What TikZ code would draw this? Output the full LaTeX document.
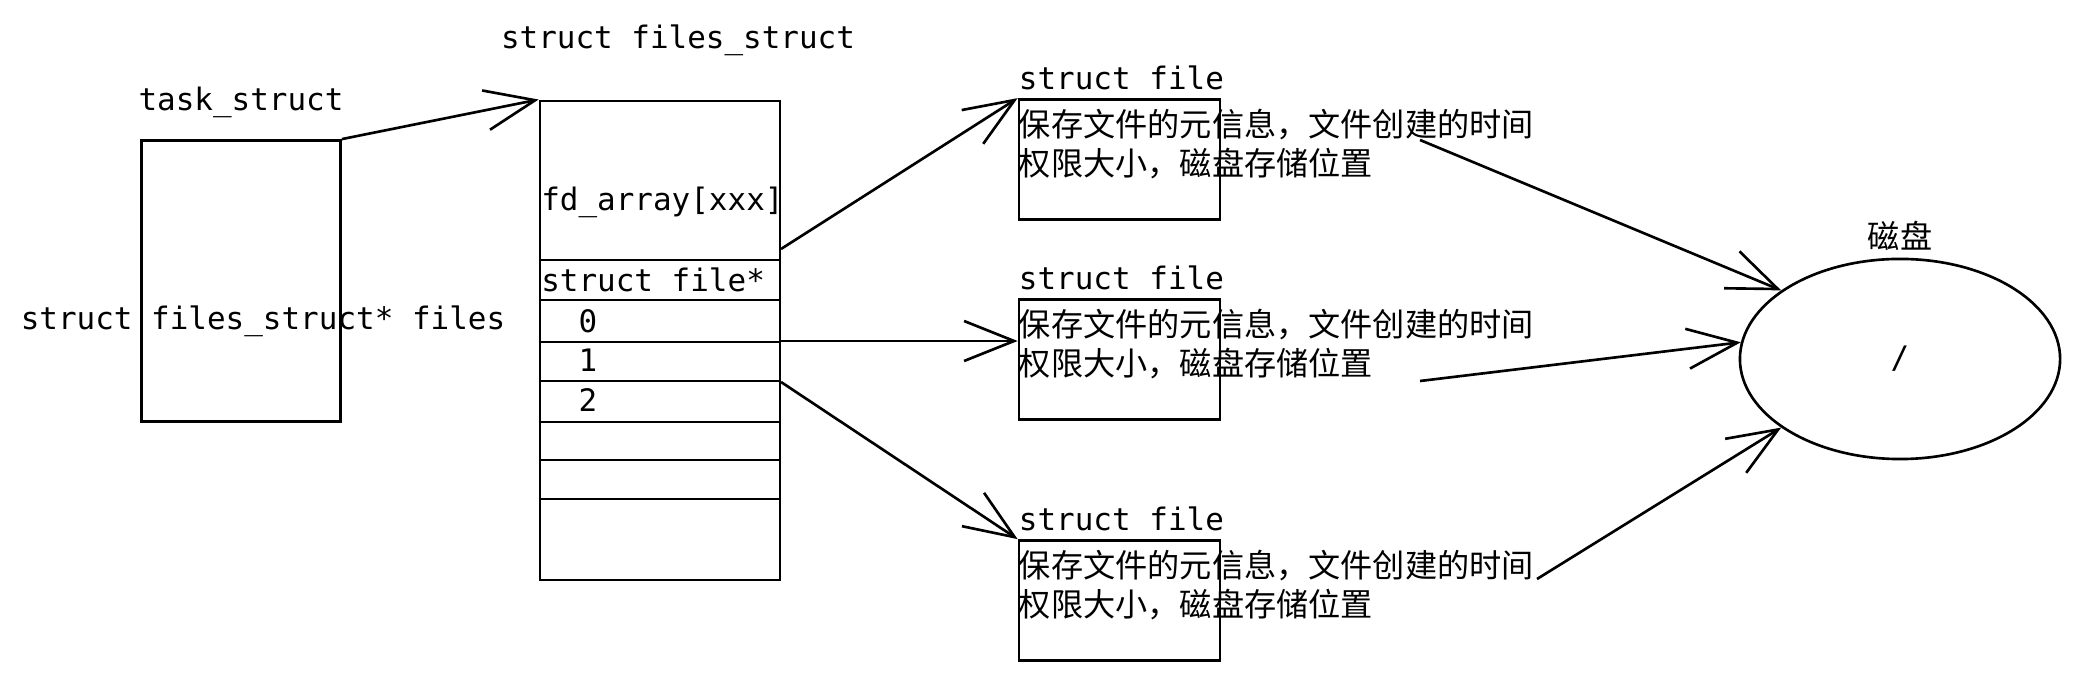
\documentclass[tikz,border=0pt]{standalone}
\usepackage{fontspec}
\setmonofont{DejaVu Sans Mono}
\newfontfamily\cjk{Noto Sans CJK SC}
\usetikzlibrary{arrows.meta, positioning, shapes.geometric}
\tikzset{
>={Straight Barb[length=5mm, width=4mm]}, % open arrow heads, like the sketch
box/.style={draw, inner sep=0pt}, % plain rectangles for the structs
code/.style={font=\ttfamily\fontsize{8.8}{10}\selectfont, inner sep=0pt}, % code names
info/.style={font=\cjk\fontsize{9.15}{11.1}\selectfont, align=left, inner sep=0pt}, % chinese notes
}

\begin{document}
\begin{tikzpicture}[x=0.01cm, y=-0.01cm, line width=0.75pt]
    \useasboundingbox (0,0) rectangle (2080,680);

    % task_struct
    \node[box, minimum width=1.99cm, minimum height=2.81cm] (task) at (241,281) {};
    \node[code] (tasklabel) at (241,102) {task\_struct};
    \node[code] (filesptr) at (263,321) {struct files\_struct* files};

    % files_struct with its fd table
    \node[box, minimum width=2.4cm, minimum height=4.79cm] (fs) at (660,340.5) {};
    \node[code] (fslabel) at (678,40) {struct files\_struct};
    \foreach \y in {260,300,342,381,422,460,499}
        \draw (fs.west |- 0,\y) -- (fs.east |- 0,\y);
    \node[code, anchor=west] (fdarray) at (540,202) {fd\_array[xxx]};
    \node[code, anchor=west] (slothead) at (540,280) {struct file*};
    \node[code] (slot0) at (588,321) {0};
    \node[code] (slot1) at (588,360) {1};
    \node[code] (slot2) at (588,400) {2};

    % struct file objects
    \foreach \n/\y in {1/159.5, 2/359.5, 3/600.5} {
        \node[box, minimum width=2.01cm, minimum height=1.2cm] (file\n) at (1119.5,\y) {};
        \node[code, anchor=south west, inner ysep=2pt] (filelabel\n) at (file\n.north west) {struct file};
        \node[info, anchor=west] (info\n) at ([yshift=0.15cm]file\n.west) {保存文件的元信息，文件创建的时间\\权限大小，磁盘存储位置};
    }

    % disk
    \node[draw, ellipse, minimum width=3.2cm, minimum height=2cm, code] (disk) at (1900,359) {/};
    \node[info, above=0.06cm of disk] (disklabel) {磁盘};

    % arrows
    \coordinate (fdout) at (781,249);
    \coordinate (out0) at (781,341);
    \coordinate (out2) at (781,382);
    \coordinate (meta1) at (1420,140);
    \coordinate (meta2) at (1420,381);
    \coordinate (meta3) at (1537,579);

    \draw[->] (task.north east) -- (fs.north west);
    \draw[->] (fdout) -- (file1.north west);
    \draw[->] (out0) -- (out0 -| file2.west);
    \draw[->] (out2) -- (file3.north west);
    \draw[->] (meta1) -- (disk.150);
    \draw[->] (meta2) -- (disk.174);
    \draw[->] (meta3) -- (disk.210);
\end{tikzpicture}
\end{document}
